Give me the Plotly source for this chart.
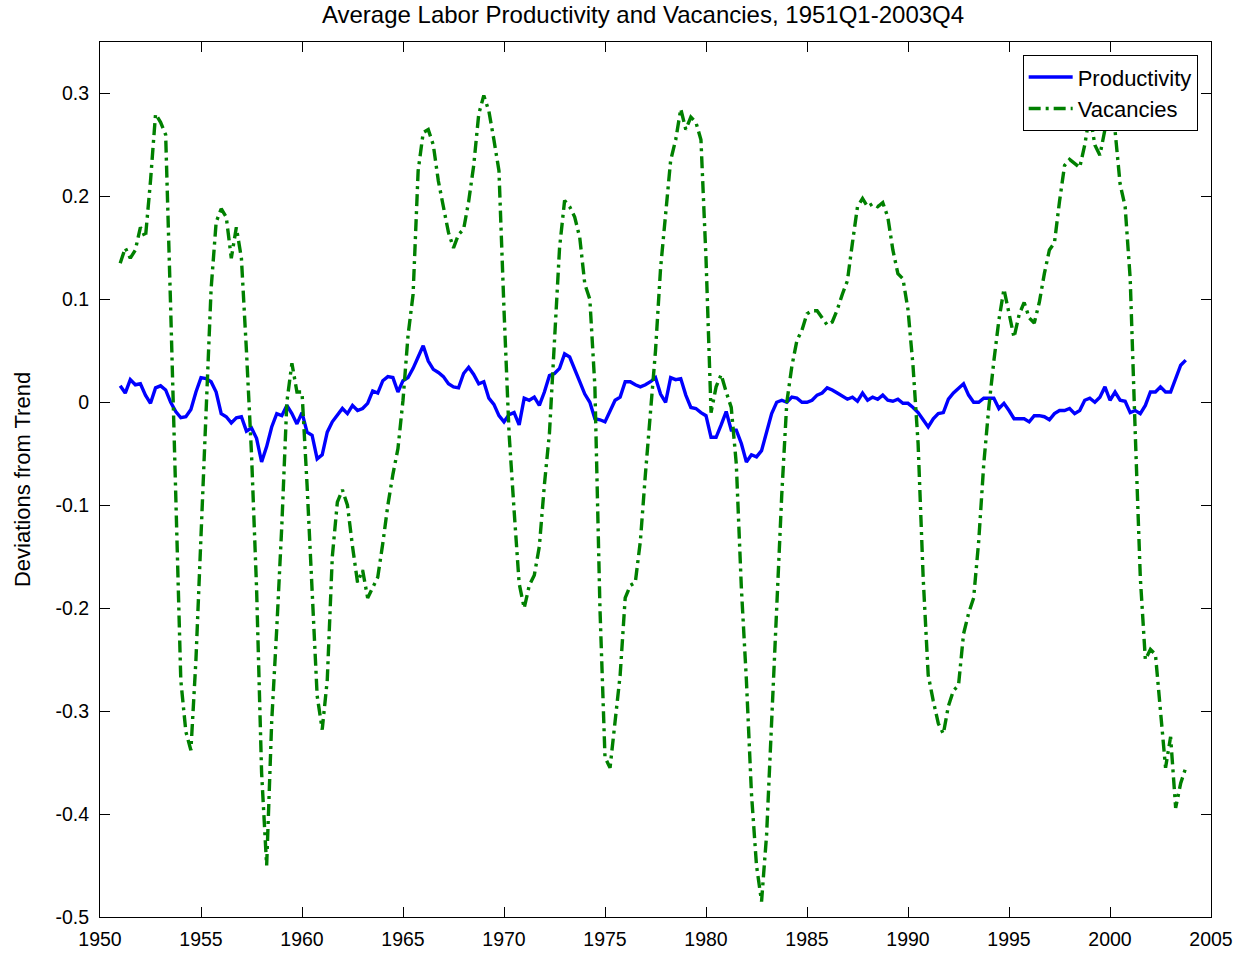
import numpy as np
import plotly.graph_objects as go

start_year = 1951
# Quarterly values, 1951Q1-2003Q4 (one row per year)
productivity = [
    0.016, 0.009, 0.022, 0.017,   # 1951
    0.018, 0.007, -0.001, 0.014,  # 1952
    0.016, 0.012, 0.000, -0.009,  # 1953
    -0.015, -0.014, -0.007, 0.010,  # 1954
    0.024, 0.023, 0.020, 0.010,   # 1955
    -0.011, -0.014, -0.020, -0.015,  # 1956
    -0.014, -0.028, -0.025, -0.035,  # 1957
    -0.058, -0.043, -0.024, -0.011,  # 1958
    -0.013, -0.003, -0.011, -0.021,  # 1959
    -0.010, -0.029, -0.032, -0.055,  # 1960
    -0.051, -0.029, -0.019, -0.012,  # 1961
    -0.006, -0.011, -0.003, -0.008,  # 1962
    -0.006, -0.001, 0.011, 0.009,  # 1963
    0.021, 0.025, 0.024, 0.010,   # 1964
    0.021, 0.024, 0.033, 0.044,   # 1965
    0.055, 0.040, 0.032, 0.029,   # 1966
    0.025, 0.018, 0.015, 0.014,   # 1967
    0.028, 0.034, 0.027, 0.018,   # 1968
    0.020, 0.004, -0.002, -0.013,  # 1969
    -0.019, -0.012, -0.010, -0.022,  # 1970
    0.004, 0.002, 0.005, -0.003,  # 1971
    0.010, 0.026, 0.028, 0.033,   # 1972
    0.047, 0.044, 0.031, 0.020,   # 1973
    0.008, 0.000, -0.016, -0.017,  # 1974
    -0.019, -0.008, 0.002, 0.005,  # 1975
    0.020, 0.020, 0.017, 0.015,   # 1976
    0.017, 0.020, 0.024, 0.008,   # 1977
    0.000, 0.024, 0.022, 0.023,   # 1978
    0.007, -0.005, -0.006, -0.010,  # 1979
    -0.013, -0.034, -0.034, -0.022,  # 1980
    -0.009, -0.027, -0.027, -0.040,  # 1981
    -0.058, -0.051, -0.053, -0.047,  # 1982
    -0.030, -0.011, 0.000, 0.002,  # 1983
    0.000, 0.005, 0.004, 0.000,   # 1984
    0.000, 0.002, 0.007, 0.009,   # 1985
    0.014, 0.012, 0.009, 0.006,   # 1986
    0.003, 0.005, 0.001, 0.009,   # 1987
    0.002, 0.005, 0.003, 0.007,   # 1988
    0.002, 0.001, 0.003, -0.001,  # 1989
    -0.001, -0.005, -0.010, -0.017,  # 1990
    -0.024, -0.016, -0.011, -0.010,  # 1991
    0.003, 0.009, 0.014, 0.018,   # 1992
    0.007, 0.000, 0.000, 0.004,   # 1993
    0.004, 0.004, -0.006, -0.001,  # 1994
    -0.008, -0.016, -0.016, -0.016,  # 1995
    -0.019, -0.013, -0.013, -0.014,  # 1996
    -0.017, -0.011, -0.008, -0.008,  # 1997
    -0.006, -0.011, -0.008, 0.002,  # 1998
    0.004, 0.000, 0.005, 0.015,   # 1999
    0.002, 0.010, 0.002, 0.001,   # 2000
    -0.010, -0.008, -0.011, -0.003,  # 2001
    0.010, 0.010, 0.015, 0.010,   # 2002
    0.010, 0.023, 0.036, 0.041,   # 2003
]

vacancies = [
    0.135, 0.150, 0.140, 0.148,   # 1951
    0.170, 0.160, 0.215, 0.280,   # 1952
    0.272, 0.260, 0.090, -0.090,  # 1953
    -0.270, -0.320, -0.338, -0.250,  # 1954
    -0.130, -0.030, 0.110, 0.175,  # 1955
    0.188, 0.180, 0.140, 0.170,   # 1956
    0.140, 0.050, -0.050, -0.180,  # 1957
    -0.360, -0.450, -0.310, -0.220,  # 1958
    -0.120, 0.000, 0.038, 0.010,  # 1959
    0.010, -0.080, -0.190, -0.285,  # 1960
    -0.318, -0.270, -0.150, -0.097,  # 1961
    -0.085, -0.100, -0.140, -0.175,  # 1962
    -0.163, -0.190, -0.180, -0.170,  # 1963
    -0.137, -0.100, -0.070, -0.045,  # 1964
    0.002, 0.065, 0.105, 0.225,   # 1965
    0.262, 0.265, 0.250, 0.215,   # 1966
    0.190, 0.165, 0.150, 0.163,   # 1967
    0.168, 0.195, 0.230, 0.280,   # 1968
    0.298, 0.283, 0.255, 0.225,   # 1969
    0.090, -0.030, -0.105, -0.176,  # 1970
    -0.200, -0.178, -0.168, -0.140,  # 1971
    -0.080, -0.030, 0.060, 0.150,  # 1972
    0.196, 0.190, 0.180, 0.160,   # 1973
    0.115, 0.100, 0.015, -0.200,  # 1974
    -0.345, -0.355, -0.310, -0.265,  # 1975
    -0.190, -0.178, -0.175, -0.135,  # 1976
    -0.070, -0.010, 0.050, 0.130,  # 1977
    0.180, 0.235, 0.255, 0.285,   # 1978
    0.265, 0.277, 0.272, 0.255,   # 1979
    0.140, -0.010, 0.015, 0.027,  # 1980
    0.010, -0.005, -0.060, -0.180,  # 1981
    -0.270, -0.380, -0.450, -0.485,  # 1982
    -0.420, -0.305, -0.190, -0.090,  # 1983
    0.000, 0.035, 0.060, 0.070,   # 1984
    0.086, 0.089, 0.089, 0.082,   # 1985
    0.075, 0.078, 0.090, 0.105,   # 1986
    0.118, 0.155, 0.190, 0.198,   # 1987
    0.190, 0.193, 0.190, 0.194,   # 1988
    0.180, 0.148, 0.125, 0.120,   # 1989
    0.090, 0.035, -0.040, -0.170,  # 1990
    -0.265, -0.290, -0.312, -0.322,  # 1991
    -0.295, -0.280, -0.275, -0.225,  # 1992
    -0.205, -0.190, -0.135, -0.060,  # 1993
    -0.005, 0.040, 0.080, 0.110,  # 1994
    0.085, 0.063, 0.085, 0.097,   # 1995
    0.082, 0.077, 0.097, 0.125,   # 1996
    0.148, 0.155, 0.195, 0.230,   # 1997
    0.236, 0.232, 0.228, 0.250,   # 1998
    0.280, 0.250, 0.240, 0.265,   # 1999
    0.277, 0.264, 0.212, 0.190,   # 2000
    0.120, -0.030, -0.170, -0.250,  # 2001
    -0.240, -0.245, -0.305, -0.355,  # 2002
    -0.325, -0.394, -0.370, -0.355,  # 2003
]

x_tickvals = [1950, 1955, 1960, 1965, 1970, 1975, 1980, 1985, 1990, 1995, 2000, 2005]
x_ticktext = ["1950", "1955", "1960", "1965", "1970", "1975", "1980", "1985", "1990", "1995", "2000", "2005"]
y_tickvals = [-0.5, -0.4, -0.3, -0.2, -0.1, 0.0, 0.1, 0.2, 0.3]
y_ticktext = ["-0.5", "-0.4", "-0.3", "-0.2", "-0.1", "0", "0.1", "0.2", "0.3"]

t = start_year + np.arange(len(productivity)) / 4.0

FONT = "Liberation Sans, Arial, Helvetica, sans-serif"

fig = go.Figure()
fig.add_trace(go.Scatter(
    x=t, y=productivity, mode="lines", name="Productivity",
    line=dict(color="#0000FF", width=3.4),
))
fig.add_trace(go.Scatter(
    x=t, y=vacancies, mode="lines", name="Vacancies",
    line=dict(color="#008000", width=3.4, dash="12px,5px,3px,5px"),
))

axis_common = dict(
    showline=True, linecolor="black", linewidth=1, mirror="ticks",
    ticks="inside", ticklen=10, tickwidth=1, tickcolor="black",
    showgrid=False, zeroline=False, automargin=False,
    tickfont=dict(family=FONT, size=19.5, color="black"),
)

fig.update_layout(
    width=1252, height=957,
    paper_bgcolor="white", plot_bgcolor="white",
    margin=dict(l=100, r=41, t=42, b=40),
    title=dict(
        text="Average Labor Productivity and Vacancies, 1951Q1-2003Q4",
        x=643 / 1252, xanchor="center", y=1 - 15 / 957, yanchor="middle",
        font=dict(family=FONT, size=24, color="black"),
    ),
    xaxis=dict(range=[1950, 2005], tickvals=x_tickvals, ticktext=x_ticktext,
               ticklabelstandoff=5, **axis_common),
    yaxis=dict(
        range=[-0.5, 0.35], tickvals=y_tickvals, ticktext=y_ticktext,
        ticklabelstandoff=6,
        title=dict(text="Deviations from Trend", font=dict(family=FONT, size=22, color="black"), standoff=18),
        **axis_common,
    ),
    legend=dict(
        x=0.988, y=0.985, xanchor="right", yanchor="top",
        bgcolor="white", bordercolor="black", borderwidth=1,
        font=dict(family=FONT, size=22, color="black"),
        tracegroupgap=0, itemwidth=44,
    ),
    showlegend=True,
)

fig.write_html("out.html")
